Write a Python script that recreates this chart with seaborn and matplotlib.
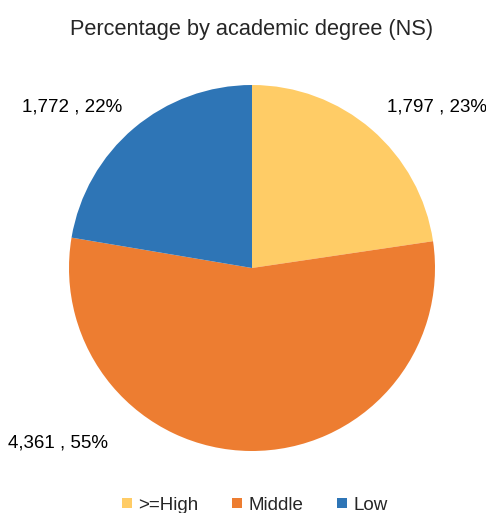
import matplotlib
matplotlib.use("Agg")
import matplotlib.pyplot as plt
import seaborn as sns
from matplotlib.lines import Line2D

categories = [">=High", "Middle", "Low"]
counts = [1797, 4361, 1772]
percents = [23, 55, 22]
colors = ["#FFCC66", "#ED7D31", "#2E75B6"]
title = "Percentage by academic degree (NS)"

sns.set_theme(style="white")
plt.rcParams['font.family'] = ['Liberation Sans', 'DejaVu Sans']

W, H = 486, 513
fig = plt.figure(figsize=(W / 100, H / 100), dpi=100)
cx, cy, r = 252, 513 - 268, 183
ax = fig.add_axes([(cx - r) / W, (cy - r) / H, 2 * r / W, 2 * r / H])
ax.pie(counts, colors=colors, startangle=90, counterclock=False,
       wedgeprops=dict(linewidth=0), radius=1.0)
ax.set_xlim(-1, 1)
ax.set_ylim(-1, 1)
ax.set_aspect("equal")
ax.axis("off")

# label anchor positions (pixels) for each slice
pix = [(437, 107), (58, 443), (72, 107)]
for (px, py), c, p in zip(pix, counts, percents):
    fig.text(px / W, 1 - py / H, f"{c:,} , {p}%", ha="center", va="center",
             fontsize=13.5, color="#000000")

fig.text(cx / W, 1 - 30 / H, title, ha="center", va="center", fontsize=15.7)

handles = [Line2D([0], [0], marker="s", linestyle="", markersize=7,
                  markerfacecolor=col, markeredgewidth=0) for col in colors]
fig.legend(handles, categories, loc="center", bbox_to_anchor=((cx + 2) / W, 1 - 505 / H),
           ncol=3, frameon=False, fontsize=13.5, handletextpad=0.25,
           columnspacing=1.7, handlelength=0.7)

fig.savefig("out.png", dpi=100)
